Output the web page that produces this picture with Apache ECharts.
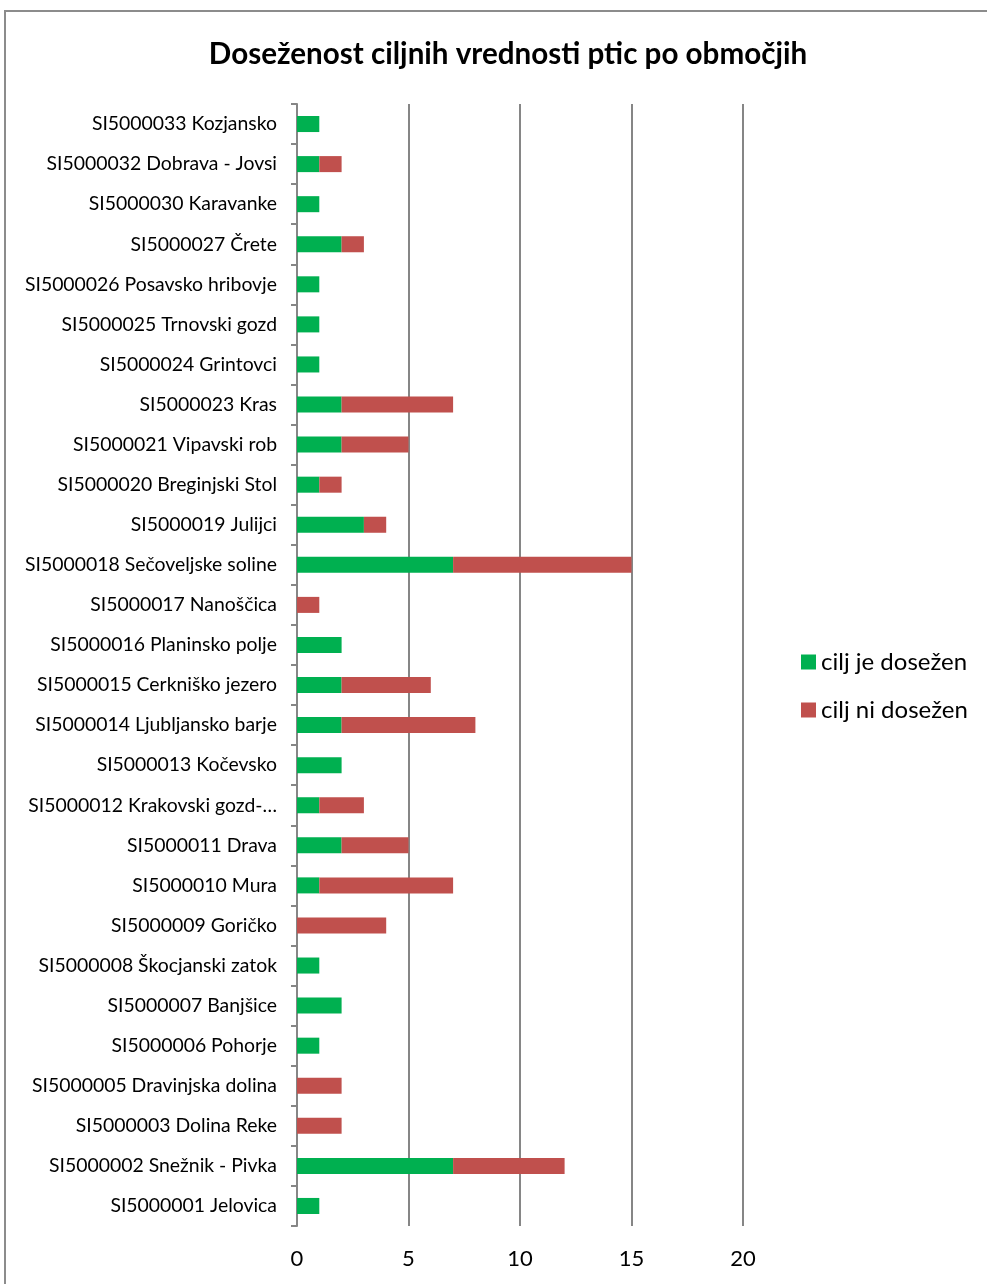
<!DOCTYPE html>
<html><head><meta charset="utf-8">
<script src="https://cdn.jsdelivr.net/npm/echarts@6/dist/echarts.min.js"></script>
<style>html,body{margin:0;padding:0;background:#fff}#c{width:987px;height:1284px}</style>
</head><body><div id="c"></div>
<script>
const categories = [
 "SI5000033 Kozjansko","SI5000032 Dobrava - Jovsi","SI5000030 Karavanke","SI5000027 Črete",
 "SI5000026 Posavsko hribovje","SI5000025 Trnovski gozd","SI5000024 Grintovci","SI5000023 Kras",
 "SI5000021 Vipavski rob","SI5000020 Breginjski Stol","SI5000019 Julijci","SI5000018 Sečoveljske soline",
 "SI5000017 Nanoščica","SI5000016 Planinsko polje","SI5000015 Cerkniško jezero","SI5000014 Ljubljansko barje",
 "SI5000013 Kočevsko","SI5000012 Krakovski gozd-…","SI5000011 Drava","SI5000010 Mura",
 "SI5000009 Goričko","SI5000008 Škocjanski zatok","SI5000007 Banjšice","SI5000006 Pohorje",
 "SI5000005 Dravinjska dolina","SI5000003 Dolina Reke","SI5000002 Snežnik - Pivka","SI5000001 Jelovica"
];
const reached =    [1,1,1,2,1,1,1,2,2,1,3,7,0,2,2,2,2,1,2,1,0,1,2,1,0,0,7,1];
const notReached = [0,1,0,1,0,0,0,5,3,1,1,8,1,0,4,6,0,2,3,6,4,0,0,0,2,2,5,0];
const seriesNames = ["cilj je dosežen","cilj ni dosežen"];
const xTicks = [0,5,10,15,20];

const font = "Lato, 'Open Sans', sans-serif";
const chart = echarts.init(document.getElementById('c'));
chart.setOption({
  backgroundColor:'#fff',
  animation:false,
  title:{text:"Doseženost ciljnih vrednosti ptic po območjih",left:503,top:34,textAlign:'center',
    textStyle:{fontFamily:font,fontWeight:'bold',fontSize:29.6,color:'#000'}},
  graphic:[{type:'rect',shape:{x:5,y:11,width:1000,height:1300},style:{fill:null,stroke:'#8c8c8c',lineWidth:2},silent:true}],
  legend:{orient:'vertical',left:796,top:645,itemWidth:15,itemHeight:15,itemGap:24,icon:'rect',
    textStyle:{fontFamily:font,fontSize:24,color:'#000',padding:[0,0,0,0]},data:seriesNames},
  grid:{left:297,right:244,top:104,bottom:58,containLabel:false},
  xAxis:{type:'value',min:xTicks[0],max:xTicks[xTicks.length-1],interval:5,
    axisLine:{show:false},axisTick:{show:false},
    splitLine:{show:true,lineStyle:{color:'#868686',width:2}},
    axisLabel:{fontFamily:font,fontSize:22,color:'#000',margin:22}},
  yAxis:{type:'category',data:categories,inverse:true,
    axisLine:{show:true,lineStyle:{color:'#868686',width:2}},
    axisTick:{show:true,length:6,lineStyle:{color:'#868686',width:2}},
    axisLabel:{fontFamily:font,fontSize:19.4,color:'#000',margin:20}},
  series:[
    {name:seriesNames[0],type:'bar',stack:'a',data:reached,barWidth:'40%',itemStyle:{color:'#00B050'}},
    {name:seriesNames[1],type:'bar',stack:'a',data:notReached,barWidth:'40%',itemStyle:{color:'#C0504D'}}
  ]
});
</script></body></html>
